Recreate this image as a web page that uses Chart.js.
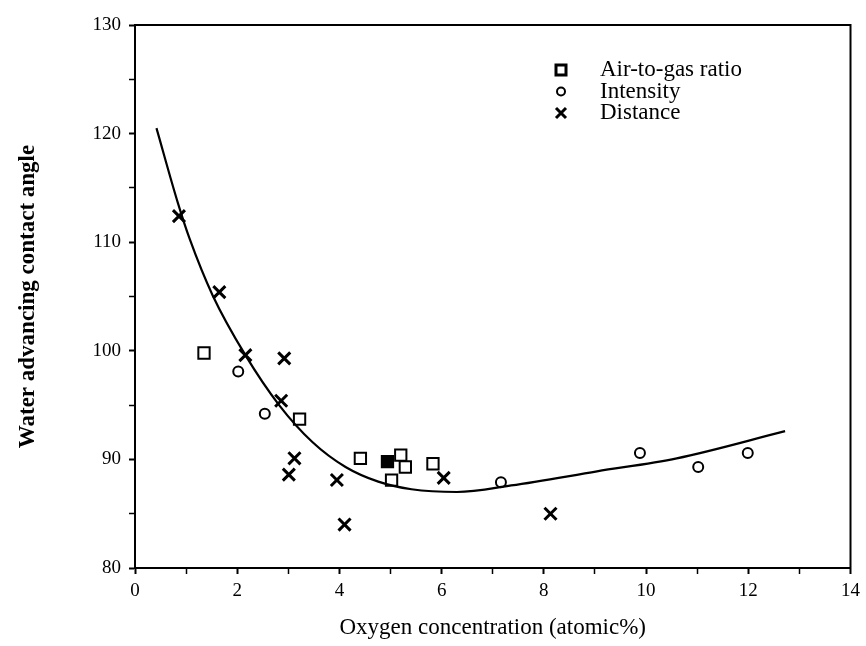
<!DOCTYPE html>
<html lang="en">
  <head>
    <meta charset="UTF-8" />
    <script src="https://cdn.jsdelivr.net/npm/chart.js@4.4.0/dist/chart.umd.min.js"></script>
    <title>Water advancing contact angle vs oxygen concentration</title>
    <style>
      body {
        margin: 0;
        padding: 0;
        background: white;
      }

      .container {
        width: 866px;
        height: 646px;
      }
    </style>
  </head>
  <body>
    <div class="container">
      <canvas id="contactChart"></canvas>
    </div>
    <script>
      // values
      const airX = [1.35, 3.22, 4.41, 5.2, 5.29, 5.02, 5.83, 4.94]
      const airY = [99.8, 93.7, 90.1, 90.4, 89.3, 88.1, 89.6, 89.8]
      const airFilled = [false, false, false, false, false, false, false, true]

      const intensityX = [2.02, 2.54, 7.16, 9.88, 11.02, 11.99]
      const intensityY = [98.1, 94.2, 87.9, 90.6, 89.3, 90.6]

      const distanceX = [0.86, 1.65, 2.16, 2.92, 2.86, 3.12, 3.01, 3.95, 4.1, 6.04, 8.13]
      const distanceY = [112.4, 105.4, 99.6, 99.3, 95.4, 90.1, 88.6, 88.1, 84.0, 88.3, 85.0]

      const fitX = [0.42, 0.84, 1.07, 1.52, 2.16, 2.82, 3.47, 4.12, 4.76, 5.41, 6.3, 7.36, 9.04, 10.6, 12.72]
      const fitY = [120.5, 113.6, 110.3, 105.1, 99.6, 95.0, 91.6, 89.3, 87.95, 87.25, 87.0, 87.6, 88.9, 90.1, 92.6]

      const xTicks = [0, 2, 4, 6, 8, 10, 12, 14]
      const xMinor = [1, 3, 5, 7, 9, 11, 13]
      const yTicks = [80, 90, 100, 110, 120, 130]
      const yMinor = [85, 95, 105, 115, 125]

      const zip = (xs, ys) => xs.map((x, i) => ({ x: x, y: ys[i] }))
      const serif = 'Liberation Serif'

      // box around the plot + legend inside the plot area
      const frameAndLegend = {
        id: 'frameAndLegend',
        afterDraw(chart) {
          const { ctx, chartArea } = chart
          ctx.save()
          ctx.strokeStyle = '#000'
          ctx.lineWidth = 2
          ctx.strokeRect(chartArea.left, chartArea.top, chartArea.right - chartArea.left, chartArea.bottom - chartArea.top)

          const rows = chart.data.datasets.filter((d) => d.inLegend)
          const mx = 561
          const tx = 600
          let y = 70
          ctx.font = '23px ' + serif
          ctx.textBaseline = 'middle'
          ctx.fillStyle = '#000'
          rows.forEach((d) => {
            ctx.lineWidth = d.legendLine
            ctx.beginPath()
            if (d.pointStyle === 'rect') {
              ctx.rect(mx - 5, y - 5, 10, 10)
            } else if (d.pointStyle === 'circle') {
              ctx.arc(mx, y, 4, 0, Math.PI * 2)
            } else {
              ctx.moveTo(mx - 5, y - 5)
              ctx.lineTo(mx + 5, y + 5)
              ctx.moveTo(mx + 5, y - 5)
              ctx.lineTo(mx - 5, y + 5)
            }
            ctx.stroke()
            ctx.fillText(d.label, tx, y)
            y += 21.5
          })
          ctx.restore()
        },
      }

      const ctx = document.getElementById('contactChart').getContext('2d')
      new Chart(ctx, {
        type: 'scatter',
        data: {
          datasets: [
            {
              label: 'Fit',
              data: zip(fitX, fitY),
              showLine: true,
              cubicInterpolationMode: 'monotone',
              borderColor: '#000',
              borderWidth: 2.2,
              pointRadius: 0,
              inLegend: false,
            },
            {
              label: 'Air-to-gas ratio',
              data: zip(airX, airY),
              pointStyle: 'rect',
              pointRadius: 8,
              pointBorderWidth: 2,
              pointBorderColor: '#000',
              pointBackgroundColor: airFilled.map((f) => (f ? '#000' : '#fff')),
              inLegend: true,
              legendLine: 3,
            },
            {
              label: 'Intensity',
              data: zip(intensityX, intensityY),
              pointStyle: 'circle',
              pointRadius: 5,
              pointBorderWidth: 2,
              pointBorderColor: '#000',
              pointBackgroundColor: '#fff',
              inLegend: true,
              legendLine: 2,
            },
            {
              label: 'Distance',
              data: zip(distanceX, distanceY),
              pointStyle: 'crossRot',
              pointRadius: 8.5,
              pointBorderWidth: 3,
              pointBorderColor: '#000',
              inLegend: true,
              legendLine: 3,
            },
          ],
        },
        options: {
          responsive: true,
          maintainAspectRatio: false,
          animation: false,
          layout: {
            padding: { top: 25, right: 11, left: 0, bottom: 0 },
          },
          plugins: {
            legend: { display: false },
            tooltip: { enabled: false },
          },
          scales: {
            x: {
              type: 'linear',
              min: 0,
              max: 14,
              afterBuildTicks: (scale) => {
                scale.ticks = xTicks.concat(xMinor).sort((a, b) => a - b).map((v) => ({ value: v }))
              },
              afterFit: (scale) => {
                scale.height = 78
              },
              border: { display: true, color: '#000', width: 2 },
              grid: {
                drawOnChartArea: false,
                drawTicks: true,
                tickLength: 6,
                tickWidth: (c) => (xTicks.includes(c.tick && c.tick.value) ? 2 : 1.5),
                tickColor: '#000',
              },
              ticks: {
                color: '#000',
                padding: 6,
                autoSkip: false,
                maxRotation: 0,
                font: { family: serif, size: 19 },
                callback: (v) => (xTicks.includes(v) ? v : ''),
              },
              title: {
                display: true,
                text: 'Oxygen concentration (atomic%)',
                color: '#000',
                font: { family: serif, size: 23 },
                padding: { top: 12 },
              },
            },
            y: {
              type: 'linear',
              min: 80,
              max: 130,
              afterBuildTicks: (scale) => {
                scale.ticks = yTicks.concat(yMinor).sort((a, b) => a - b).map((v) => ({ value: v }))
              },
              afterFit: (scale) => {
                scale.width = 135
              },
              border: { display: true, color: '#000', width: 2 },
              grid: {
                drawOnChartArea: false,
                drawTicks: true,
                tickLength: 6,
                tickWidth: (c) => (yTicks.includes(c.tick && c.tick.value) ? 2 : 1.5),
                tickColor: '#000',
              },
              ticks: {
                color: '#000',
                padding: 8,
                autoSkip: false,
                font: { family: serif, size: 19 },
                callback: (v) => (yTicks.includes(v) ? v : ''),
              },
              title: {
                display: true,
                text: 'Water advancing contact angle',
                color: '#000',
                font: { family: serif, size: 23, weight: 'bold' },
                padding: { top: 14 },
              },
            },
          },
        },
        plugins: [frameAndLegend],
      })
    </script>
  </body>
</html>
